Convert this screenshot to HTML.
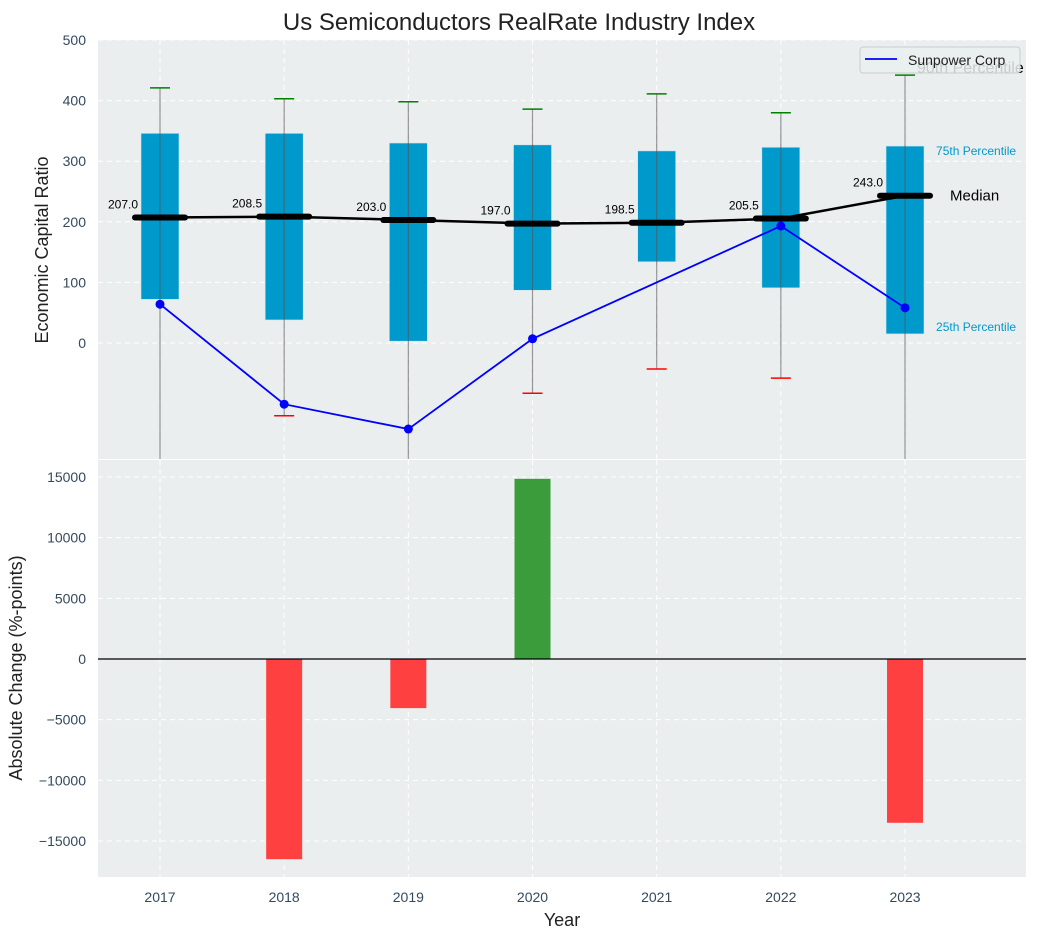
<!DOCTYPE html>
<html><head><meta charset="utf-8"><style>
body{margin:0;background:#fff;font-family:"Liberation Sans","DejaVu Sans",sans-serif}
svg text{font-family:"Liberation Sans","DejaVu Sans",sans-serif}
</style></head><body>
<svg id="chart" width="1038" height="940" xmlns="http://www.w3.org/2000/svg">
<rect width="1038" height="940" fill="#fff"/>
<text x="519" y="30" font-size="24" text-anchor="middle" fill="#222">Us Semiconductors RealRate Industry Index</text>
<rect x="98" y="40" width="928" height="419" fill="#eaeeef"/>
<rect x="98" y="460" width="928" height="417" fill="#eaeeef"/>
<g id="topPanel"></g>
<g id="botPanel"></g>
<text transform="translate(48,250) rotate(-90)" font-size="18" text-anchor="middle" fill="#222">Economic Capital Ratio</text>
<text transform="translate(22,668) rotate(-90)" font-size="18" text-anchor="middle" fill="#222">Absolute Change (%-points)</text>
<text x="562" y="926" font-size="18" text-anchor="middle" fill="#222">Year</text>
</svg>
<script>
const years=[2017,2018,2019,2020,2021,2022,2023];
const q1=[72,38,3,87,134,91,15];
const q3=[346,346,330,327,317,323,325];
const med=[207,208.5,203,197,198.5,205.5,243];
const whiskHi=[421,403,398,386,411,380,442];
const whiskLo=[-250,-120,-250,-83,-43,-58,-250];
const spYears=[2017,2018,2019,2020,2022,2023];
const spVals=[64,-101,-142,7,193,58];
const chgYears=[2018,2019,2020,2023];
const chgVals=[-16500,-4050,14850,-13500];
const topTicks=[0,100,200,300,400,500];
const botTicks=[-15000,-10000,-5000,0,5000,10000,15000];

const NS='http://www.w3.org/2000/svg';
const X=v=>160+(v-2017)*124.17;
const Yt=v=>343-v*0.606;
const Yb=v=>659-v*0.012133;
const fmt=v=>String(v).replace('-','\u2212');
function mk(p,t,a){const e=document.createElementNS(NS,t);for(const k in a)e.setAttribute(k,a[k]);p.appendChild(e);return e;}
const svgRoot=document.getElementById('chart');
const gTop=document.getElementById('topPanel'),gBot=document.getElementById('botPanel');
const clipT=mk(svgRoot,'clipPath',{id:'ct'});mk(clipT,'rect',{x:98,y:40,width:928,height:419});
gTop.setAttribute('clip-path','url(#ct)');
topTicks.forEach(t=>{const y=Yt(t);
 const g=mk(gTop,'line',{x1:98,x2:1026,y1:y,y2:y,stroke:'#fff','stroke-dasharray':'5,4'});
 
 const l=mk(svgRoot,'text',{x:86,y:y+5,'font-size':14,'text-anchor':'end',fill:'#34495e'});l.textContent=fmt(t);
 });
botTicks.forEach(t=>{const y=Yb(t);
 const g=mk(gBot,'line',{x1:98,x2:1026,y1:y,y2:y,stroke:'#fff','stroke-dasharray':'5,4'});
 
 const l=mk(svgRoot,'text',{x:86,y:y+5,'font-size':14,'text-anchor':'end',fill:'#34495e'});l.textContent=fmt(t);
 });
years.forEach(yr=>{const x=X(yr);
 mk(gTop,'line',{x1:x,x2:x,y1:40,y2:459,stroke:'#fff','stroke-dasharray':'5,4'});
 mk(gBot,'line',{x1:x,x2:x,y1:460,y2:877,stroke:'#fff','stroke-dasharray':'5,4'});
 const l=mk(svgRoot,'text',{x:x,y:902,'font-size':14,'text-anchor':'middle',fill:'#34495e'});l.textContent=yr;
 });
years.forEach((yr,i)=>{const x=X(yr);
 const b=mk(gTop,'rect',{x:x-19,y:Yt(q3[i]),width:38,height:Yt(q1[i])-Yt(q3[i]),fill:'#0099cc',stroke:'#cfe6ef','stroke-width':0.6});
 
 const w=mk(gTop,'line',{x1:x,x2:x,y1:Yt(whiskHi[i]),y2:Yt(whiskLo[i]),stroke:'#555','stroke-opacity':0.6,'stroke-width':1.2});
 
 const c=mk(gTop,'line',{x1:x-10,x2:x+10,y1:Yt(whiskHi[i]),y2:Yt(whiskHi[i]),stroke:'green','stroke-width':1.5});
 
 const c2=mk(gTop,'line',{x1:x-10,x2:x+10,y1:Yt(whiskLo[i]),y2:Yt(whiskLo[i]),stroke:'red','stroke-width':1.5});
 
});
const mp=mk(gTop,'polyline',{points:years.map((y,i)=>X(y)+','+Yt(med[i])).join(' '),fill:'none',stroke:'#000','stroke-width':2.5});

years.forEach((yr,i)=>{const x=X(yr),y=Yt(med[i]);
 const m=mk(gTop,'line',{x1:x-25,x2:x+25,y1:y,y2:y,stroke:'#000','stroke-width':6,'stroke-linecap':'round'});
 
 const t=mk(gTop,'text',{x:x-22,y:y-9,'font-size':12,'text-anchor':'end',fill:'#000'});t.textContent=med[i].toFixed(1);
 });
const sp=mk(gTop,'polyline',{points:spYears.map((y,i)=>X(y)+','+Yt(spVals[i])).join(' '),fill:'none',stroke:'#0000ff','stroke-width':1.8});

spYears.forEach((yr,i)=>{const p=mk(gTop,'circle',{cx:X(yr),cy:Yt(spVals[i]),r:4.5,fill:'#0000ff'});
 });
const last=years.length-1,lx=X(years[last])+31;
const a1=mk(gTop,'text',{x:lx,y:Yt(q3[last])+9,'font-size':12,fill:'#0099cc'});a1.textContent='75th Percentile';

const a2=mk(gTop,'text',{x:lx,y:Yt(q1[last])-3,'font-size':12,fill:'#0099cc'});a2.textContent='25th Percentile';

const a3=mk(gTop,'text',{x:lx+14,y:Yt(med[last])+5,'font-size':15,fill:'#000'});a3.textContent='Median';

const a4=mk(svgRoot,'text',{x:917,y:73,'font-size':16,fill:'#000'});a4.textContent='90th Percentile';

const lg=mk(svgRoot,'g',{});

mk(lg,'rect',{x:860,y:47,width:160,height:26,rx:3,fill:'#eaeeef','fill-opacity':0.85,stroke:'#ccc'});
mk(lg,'line',{x1:865,x2:897,y1:59,y2:59,stroke:'#0000ff','stroke-width':1.8});
const lt=mk(lg,'text',{x:908,y:65,'font-size':14,fill:'#222'});lt.textContent='Sunpower Corp';
chgYears.forEach((yr,i)=>{const v=chgVals[i],y0=Yb(0),y1=Yb(v);
 const r=mk(gBot,'rect',{x:X(yr)-18,y:Math.min(y0,y1),width:36,height:Math.abs(y1-y0),fill:v>=0?'#3a9c3a':'#ff4040'});
 });
const z=mk(gBot,'line',{x1:98,x2:1026,y1:Yb(0),y2:Yb(0),stroke:'#000','stroke-width':1.2});

</script>
</body></html>
